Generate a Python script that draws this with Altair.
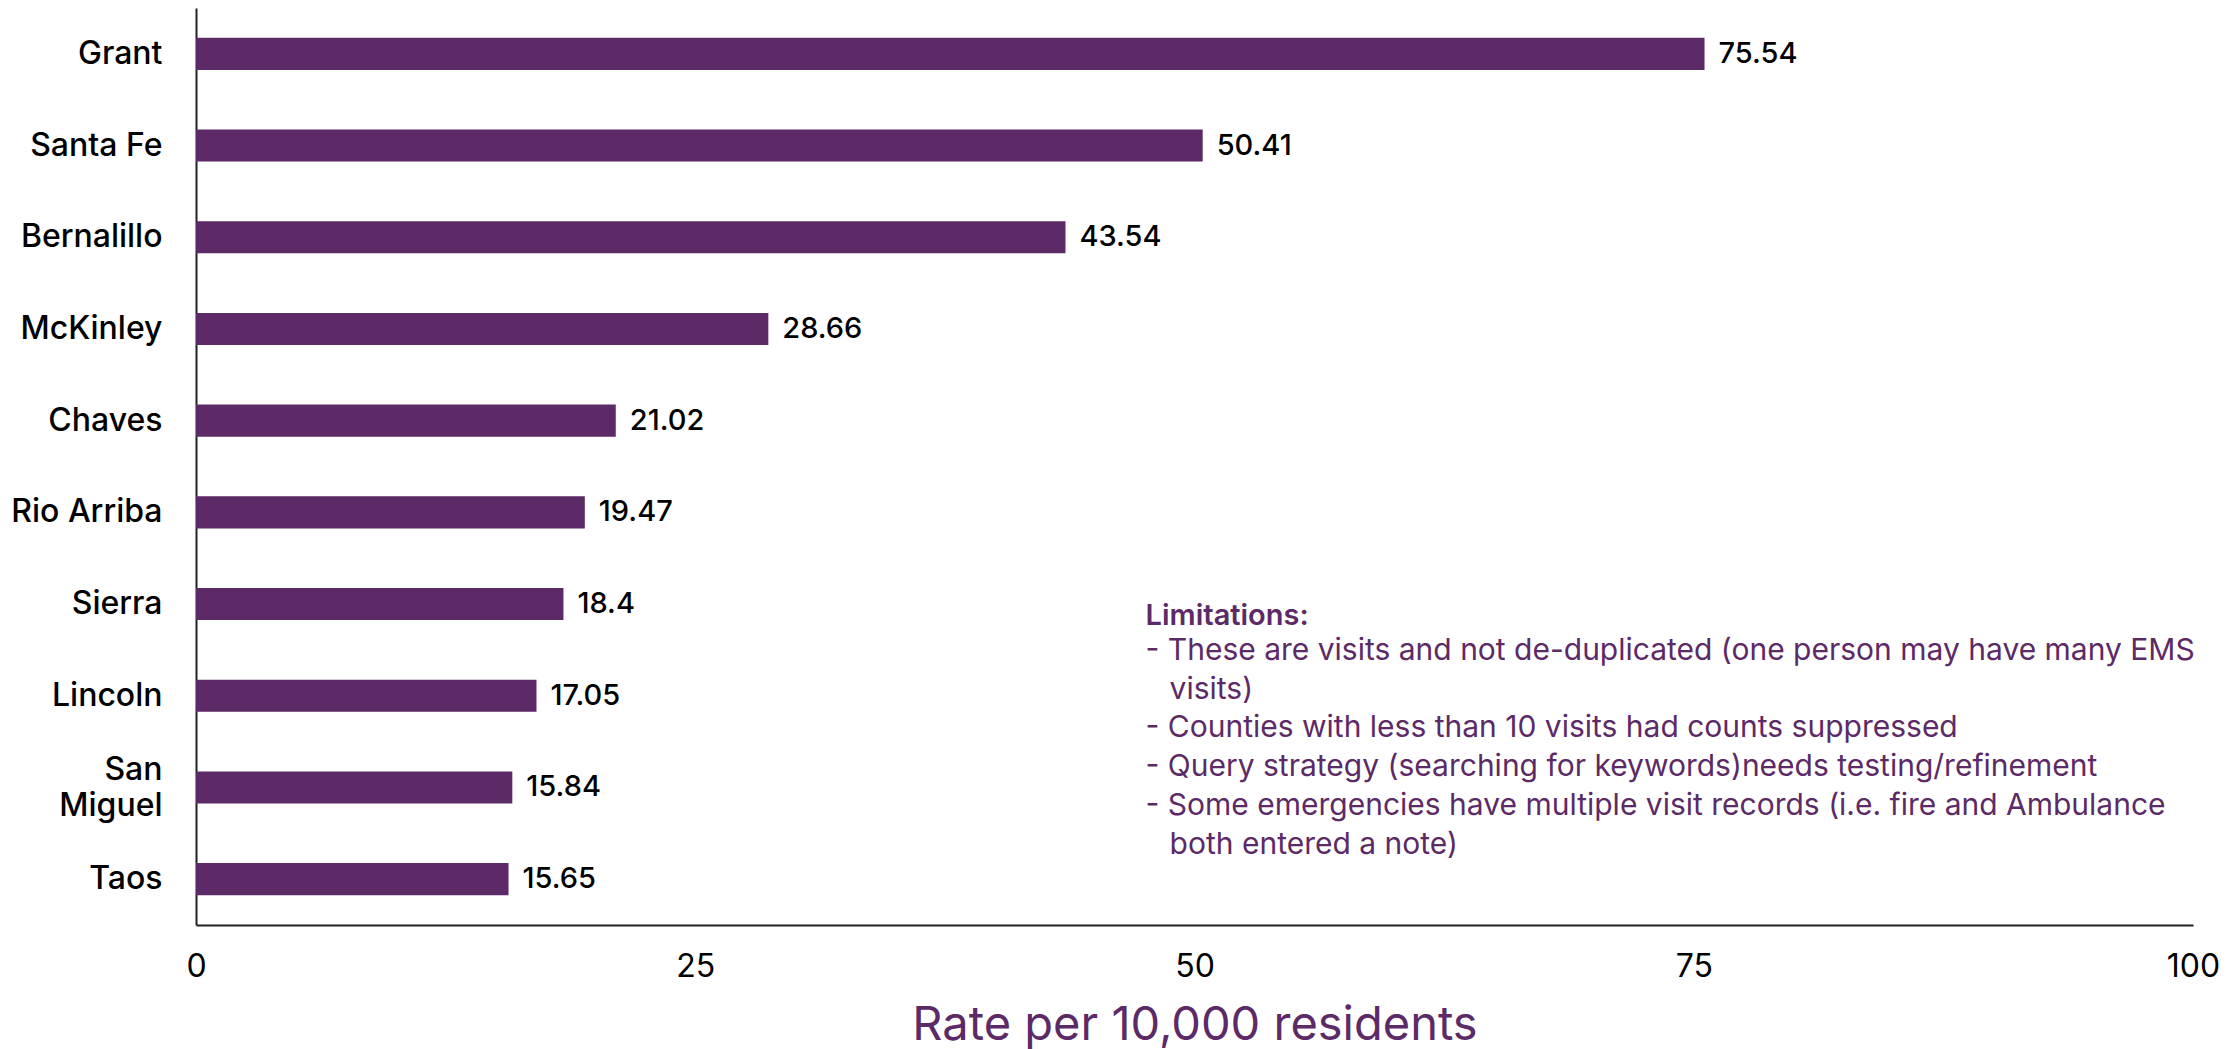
import altair as alt
import pandas as pd

counties = ["Grant", "Santa Fe", "Bernalillo", "McKinley", "Chaves",
            "Rio Arriba", "Sierra", "Lincoln", "San Miguel", "Taos"]
rates = [75.54, 50.41, 43.54, 28.66, 21.02, 19.47, 18.4, 17.05, 15.84, 15.65]
rate_labels = ["75.54", "50.41", "43.54", "28.66", "21.02", "19.47", "18.4", "17.05", "15.84", "15.65"]
x_ticks = [0, 25, 50, 75, 100]

note_title = "Limitations:"
note_lines = [
    "- These are visits and not de-duplicated (one person may have many EMS",
    "visits)",
    "- Counties with less than 10 visits had counts suppressed",
    "- Query strategy (searching for keywords)needs testing/refinement",
    "- Some emergencies have multiple visit records (i.e. fire and Ambulance",
    "both entered a note)",
]
note_indent = [False, True, False, False, False, True]

PURPLE = "#5C2A66"
FONT = "Inter"

df = pd.DataFrame({"county": counties, "rate": rates, "label": rate_labels})

y_enc = alt.Y("county:N", sort=counties, title=None,
              scale=alt.Scale(paddingInner=0.65, paddingOuter=0.325),
              axis=alt.Axis(labelFontSize=32, labelFont=FONT, labelColor="#000",
                            labelFontWeight=500, ticks=False, labelPadding=34,
                            domainColor="#222", domainWidth=2, labelLineHeight=36,
                            labelOffset={"condition": {"test": "datum.value == 'San Miguel'", "value": -17}, "value": 0},
                            labelExpr="datum.value == 'San Miguel' ? ['San', 'Miguel'] : datum.value"))
x_enc = alt.X("rate:Q", title="Rate per 10,000 residents",
              scale=alt.Scale(domain=[0, 100], nice=False),
              axis=alt.Axis(values=x_ticks, grid=False, ticks=False, labelPadding=26,
                            labelFlush=False,
                            labelFontSize=32, labelFont=FONT, labelColor="#000",
                            domainColor="#222", domainWidth=2,
                            titleFontSize=47, titleFont=FONT, titleColor=PURPLE,
                            titleFontWeight=400, titlePadding=20))

bars = alt.Chart(df).mark_bar(color=PURPLE).encode(y=y_enc, x=x_enc)
labels = alt.Chart(df).mark_text(align="left", baseline="middle", dx=14,
                                 fontSize=29, font=FONT, fontWeight=500,
                                 color="#000").encode(
    y=alt.Y("county:N", sort=counties), x="rate:Q", text="label:N")

layers = [bars, labels]

layers.append(alt.Chart(pd.DataFrame({"t": [note_title]})).mark_text(
    align="left", baseline="middle", fontSize=29, font=FONT, fontWeight=600,
    color=PURPLE, dy=12).encode(x=alt.datum(47.55), y=alt.datum("Sierra"), text="t:N"))

for i, (line, ind) in enumerate(zip(note_lines, note_indent)):
    layers.append(alt.Chart(pd.DataFrame({"t": [line]})).mark_text(
        align="left", baseline="middle", fontSize=30, font=FONT, fontWeight=400,
        color=PURPLE, dy=47 + 38.7 * i, dx=24 if ind else 0).encode(
        x=alt.datum(47.55), y=alt.datum("Sierra"), text="t:N"))

chart = alt.layer(*layers).properties(
    width=1997, height=917, background="white",
    padding={"left": 2, "top": 0, "right": 5, "bottom": 5}
).configure_view(stroke=None)

chart.save("out.html", embed_options={"renderer": "svg", "actions": False})
